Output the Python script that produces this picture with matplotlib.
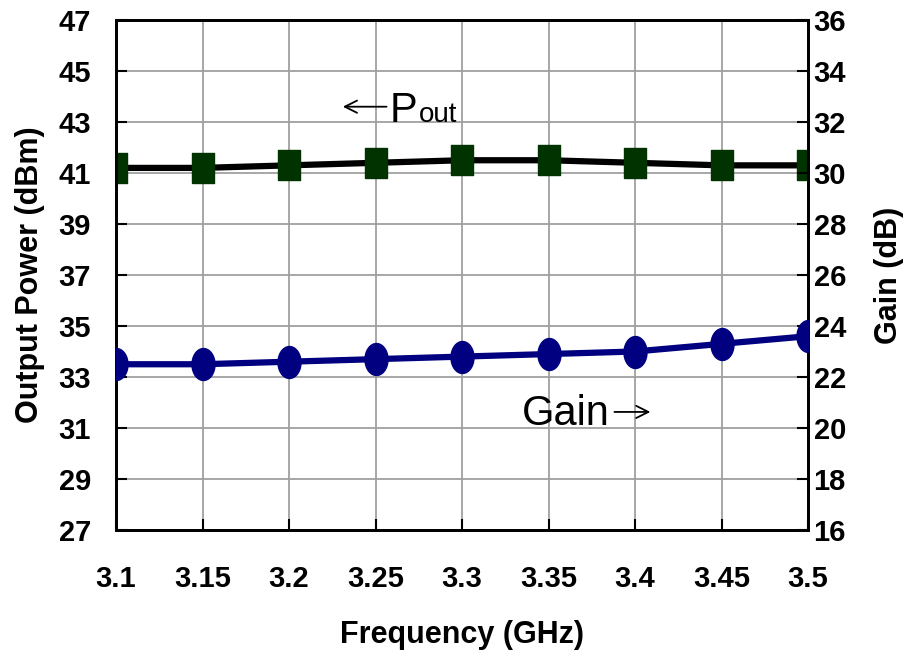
import numpy as np
import matplotlib.pyplot as plt

plt.rcParams['font.family'] = ['Liberation Sans', 'DejaVu Sans']

# Data
freq = [3.1, 3.15, 3.2, 3.25, 3.3, 3.35, 3.4, 3.45, 3.5]
pout = [41.2, 41.2, 41.3, 41.4, 41.5, 41.5, 41.4, 41.3, 41.3]   # dBm, left axis
gain = [22.5, 22.5, 22.6, 22.7, 22.8, 22.9, 23.0, 23.3, 23.6]   # dB, right axis
xticks = [3.1, 3.15, 3.2, 3.25, 3.3, 3.35, 3.4, 3.45, 3.5]
xticklabels = ['3.1', '3.15', '3.2', '3.25', '3.3', '3.35', '3.4', '3.45', '3.5']
left_ticks = list(range(27, 48, 2))
right_ticks = list(range(16, 37, 2))

# tall rectangle and ellipse markers (the original markers are stretched)
rect = [(-0.37, -0.5), (0.37, -0.5), (0.37, 0.5), (-0.37, 0.5), (-0.37, -0.5)]
t = np.linspace(0, 2 * np.pi, 60)
ellipse = list(zip(0.36 * np.cos(t), 0.5 * np.sin(t)))

fig = plt.figure(figsize=(9.06, 6.53), dpi=100)
ax = fig.add_axes([116 / 906, 1 - 530 / 653, (808 - 116) / 906, (530 - 20) / 653])
ax2 = ax.twinx()

ax.plot(freq, pout, color='black', lw=4.5, marker=rect, ms=22,
        mfc='#003300', mec='#003300', zorder=3)
ax2.plot(freq, gain, color='#000080', lw=4.5, marker=ellipse, ms=23,
         mfc='#000080', mec='#000080', zorder=3)

ax.set_xlim(3.1, 3.5)
ax.set_ylim(27, 47)
ax2.set_ylim(16, 36)
ax.set_xticks(xticks)
ax.set_xticklabels(xticklabels)
ax.set_yticks(left_ticks)
ax2.set_yticks(right_ticks)

ax.grid(True, color='#a0a0a0', lw=1.3)
ax.set_axisbelow(True)

for a in (ax, ax2):
    for s in a.spines.values():
        s.set_linewidth(2)
        s.set_color('black')

ax.tick_params(axis='x', direction='in', length=8, width=1.5, pad=25,
               labelsize=21)
ax.tick_params(axis='y', direction='in', length=8, width=1.5, pad=18,
               labelsize=21)
ax2.tick_params(axis='y', direction='in', length=8, width=1.5, pad=4,
                labelsize=21)
for lab in ax.get_xticklabels() + ax.get_yticklabels() + ax2.get_yticklabels():
    lab.set_fontweight('bold')

ax.set_xlabel('Frequency (GHz)', fontsize=22, fontweight='bold', labelpad=20)
ax.set_ylabel('Output Power (dBm)', fontsize=22, fontweight='bold', labelpad=10)
ax2.set_ylabel('Gain (dB)', fontsize=22, fontweight='bold', labelpad=20)

# annotations
ax.annotate('', xy=(3.2295, 43.6), xytext=(3.258, 43.6),
            arrowprops=dict(arrowstyle='->', color='black', lw=1.3,
                            mutation_scale=22))
ax.text(3.2584, 43.0, 'P', fontsize=30, va='baseline', ha='left')
ax.text(3.2748, 43.0, 'out', fontsize=20, va='baseline', ha='left')
ax.text(3.3347, 31.12, 'Gain', fontsize=30, va='baseline', ha='left')
ax.annotate('', xy=(3.4105, 31.63), xytext=(3.3865, 31.63),
            arrowprops=dict(arrowstyle='->', color='black', lw=1.3,
                            mutation_scale=22))

fig.savefig('out.png', dpi=100)
